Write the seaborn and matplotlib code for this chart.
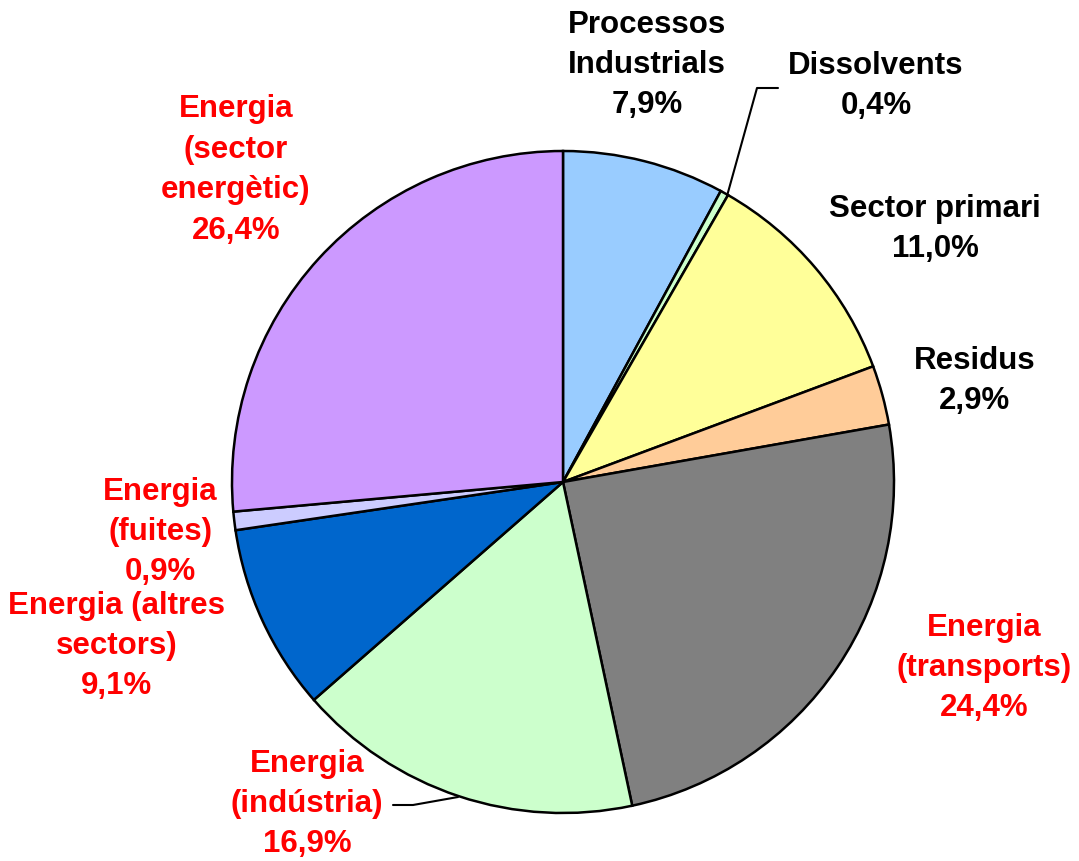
import matplotlib.pyplot as plt
import seaborn as sns

sns.set_theme(style="white")
plt.rcParams['font.family'] = ['Liberation Sans', 'DejaVu Sans']

# dades de la grafica
categories = ["Processos\nIndustrials", "Dissolvents", "Sector primari", "Residus",
              "Energia\n(transports)", "Energia\n(indústria)", "Energia (altres\nsectors)",
              "Energia\n(fuites)", "Energia\n(sector\nenergètic)"]
values = [7.9, 0.4, 11.0, 2.9, 24.4, 16.9, 9.1, 0.9, 26.4]
colors = ["#99CCFF", "#CCFFCC", "#FFFF99", "#FFCC99", "#808080",
          "#CCFFCC", "#0066CC", "#CCCCFF", "#CC99FF"]
text_colors = ["black"] * 4 + ["#FF0000"] * 5

# posicions de les etiquetes (pixels)
label_pos = [(647, 65), (876, 86), (935, 229), (975, 381), (984, 668),
             (307, 804), (117, 646), (160, 532), (236, 170)]

H = 861
fig = plt.figure(figsize=(10.79, 8.61), dpi=100)
ax = fig.add_axes([0, 0, 1, 1])

cx, cy, r = 563, 482, 331
ax.pie(values, colors=colors, startangle=90, counterclock=False,
       center=(cx, H - cy), radius=r,
       wedgeprops=dict(edgecolor="black", linewidth=1.8))

for cat, val, col, (px, py) in zip(categories, values, text_colors, label_pos):
    txt = f"{cat}\n{val:.1f}%".replace(".", ",")
    ax.text(px, H - py, txt, ha="center", va="center", fontsize=22.5,
            fontweight="bold", color=col, linespacing=1.45)

# linies guia
ax.plot([727, 757, 778], [H - 196, H - 88, H - 88], color="black", lw=1.5)
ax.plot([458, 413, 393], [H - 797, H - 805, H - 805], color="black", lw=1.5)

ax.set_xlim(0, 1079)
ax.set_ylim(0, H)
ax.set_aspect("auto")
ax.axis("off")

fig.savefig("out.png", dpi=100, facecolor="white")
